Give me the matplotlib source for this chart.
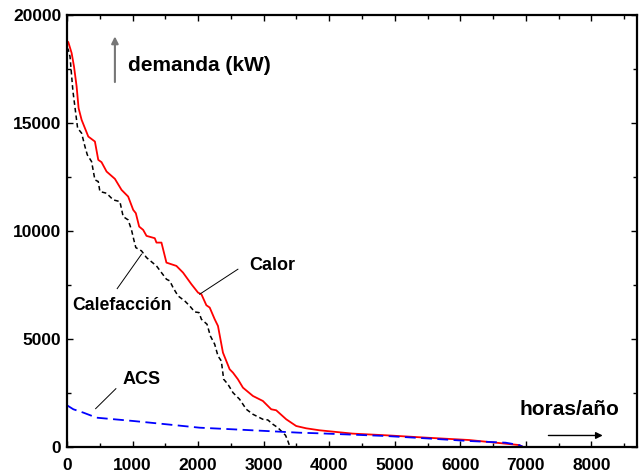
import matplotlib
matplotlib.use("Agg")
import matplotlib.pyplot as plt

plt.rcParams['font.family'] = ['Liberation Sans', 'DejaVu Sans']
plt.rcParams['font.weight'] = 'bold'

# curva monotona de demanda (horas/año vs kW)
calor_h = [0, 20, 71, 107, 147, 177, 223, 325, 426, 477, 527, 604, 731, 832, 933,
           1010, 1050, 1101, 1162, 1213, 1339, 1365, 1441, 1517, 1669, 1770, 1898,
           1999, 2050, 2126, 2177, 2253, 2303, 2379, 2481, 2532, 2607, 2684, 2836,
           2988, 3115, 3191, 3344, 3496, 3648, 3851, 4358, 4866, 5475, 6134, 6895, 6950]
calor_kw = [18800, 18757, 18246, 17625, 16700, 15695, 15153, 14378, 14147, 13298,
            13190, 12755, 12416, 11906, 11596, 10979, 10825, 10204, 10051, 9773,
            9666, 9462, 9462, 8534, 8381, 8071, 7532, 7143, 7069, 6558, 6450, 5909,
            5598, 4360, 3590, 3432, 3126, 2737, 2352, 2120, 1735, 1689, 1271, 960,
            853, 761, 606, 529, 420, 310, 77, 0]

calef_h = [0, 20, 46, 90, 162, 223, 274, 310, 375, 426, 477, 502, 604, 705, 807,
           857, 933, 984, 1020, 1050, 1137, 1213, 1365, 1441, 1517, 1568, 1618,
           1694, 1796, 1872, 1948, 2014, 2050, 2136, 2187, 2253, 2303, 2354, 2390,
           2455, 2532, 2633, 2735, 2836, 2988, 3064, 3141, 3217, 3293, 3334, 3369, 3400]
calef_kw = [18500, 18400, 18089, 16500, 14768, 14536, 13915, 13530, 13219, 12370,
            12293, 11828, 11750, 11442, 11364, 10668, 10513, 10051, 9587, 9230,
            9077, 8766, 8381, 8071, 7764, 7687, 7375, 6990, 6758, 6526, 6248, 6217,
            5909, 5677, 5134, 4749, 4207, 3975, 3126, 2894, 2505, 2199, 1735, 1503,
            1271, 1240, 1039, 881, 649, 525, 264, 0]

acs_h = [0, 97, 249, 452, 1010, 1517, 2024, 2532, 3039, 3547, 3851, 4866, 5475,
         6134, 6692, 6895, 6950]
acs_kw = [1920, 1735, 1580, 1345, 1192, 1039, 881, 806, 728, 649, 620, 496, 388,
          264, 186, 77, 0]

fig = plt.figure(figsize=(6.41, 4.73), dpi=100)
ax = fig.add_axes([0.1045, 0.0556, 0.8888, 0.9121])

ax.plot(calor_h, calor_kw, color='#ff0000', lw=1.3)
ax.plot(calef_h, calef_kw, color='black', lw=1.1, dashes=(3, 2))
ax.plot(acs_h, acs_kw, color='#0000ff', lw=1.3, dashes=(6, 3))

ax.set_xlim(0, 8690)
ax.set_ylim(0, 20000)
ax.set_xticks(range(0, 9000, 1000))
ax.set_xticks(range(500, 8700, 1000), minor=True)
ax.set_yticks(range(0, 20001, 5000))
ax.set_yticks(range(2500, 20000, 5000), minor=True)
ax.tick_params(which='both', direction='in', top=True, right=True, width=1)
ax.tick_params(which='major', length=4, labelsize=12.5)
ax.tick_params(which='minor', length=3)
ax.tick_params(axis='x', pad=8)
ax.tick_params(axis='y', pad=4)
for s in ax.spines.values():
    s.set_linewidth(1.6)

# etiquetas
ax.text(928, 17658, 'demanda (kW)', fontsize=15, va='center')
ax.annotate('', xy=(731, 19150), xytext=(731, 16776),
            arrowprops=dict(arrowstyle='-|>', color='#777777', lw=1.5,
                            mutation_scale=10))
ax.text(2785, 8381, 'Calor', fontsize=13, va='center')
ax.plot([2607, 2024], [8228, 7069], color='black', lw=0.7)
ax.text(87, 6526, 'Calefacción', fontsize=12.7, va='center')
ax.plot([766, 1137], [7329, 8924], color='black', lw=0.7)
ax.text(848, 3126, 'ACS', fontsize=13, va='center')
ax.plot([746, 437], [2690, 1763], color='black', lw=0.7)
ax.text(6895, 1702, 'horas/año', fontsize=15, va='center')
ax.annotate('', xy=(8214, 520), xytext=(7301, 520),
            arrowprops=dict(arrowstyle='-|>', color='black', lw=1,
                            mutation_scale=10))

fig.savefig('out.png', dpi=100)
